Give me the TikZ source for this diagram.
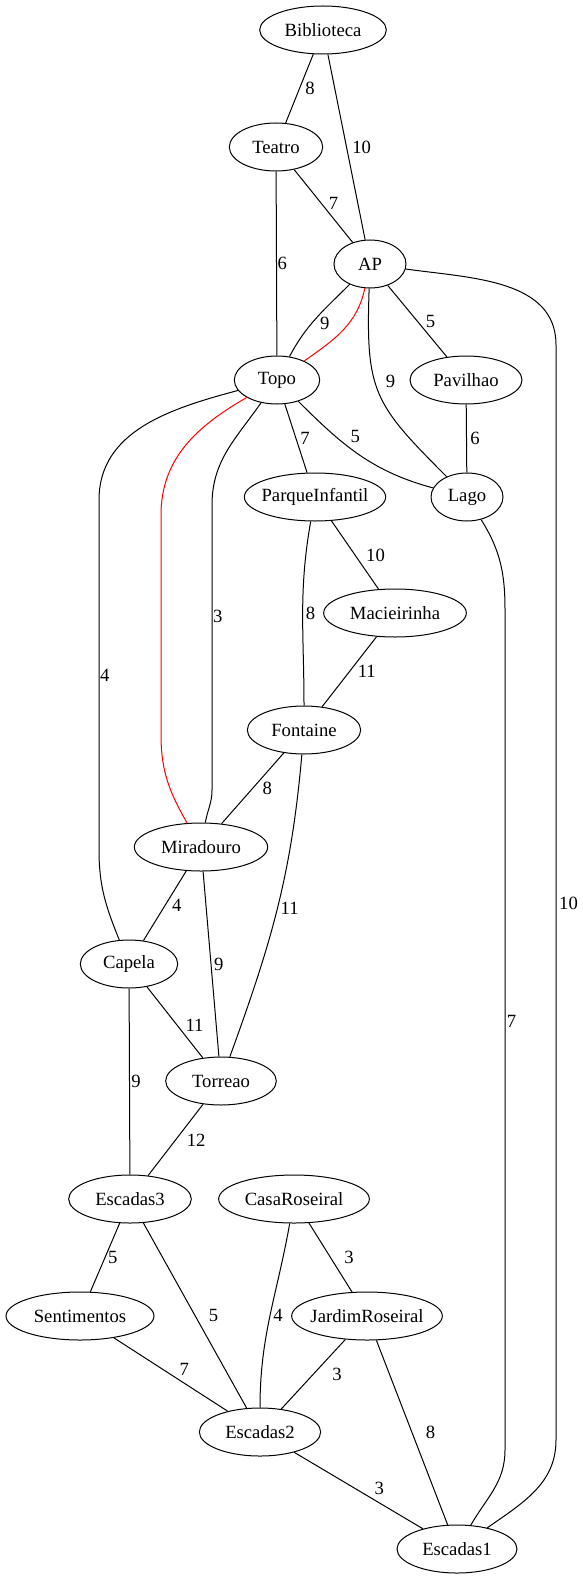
\documentclass[tikz,border=0pt]{standalone}
\usepackage{fontspec}
\setmainfont{Liberation Serif}
\usetikzlibrary{shapes.geometric}
\begin{document}
\begin{tikzpicture}[x=0.75pt,y=0.75pt,
  place/.style={draw, ellipse, line width=0.75pt, minimum width=#1, minimum height=36pt,
    inner sep=0pt, font=\fontsize{14}{16}\selectfont,
    execute at begin node={\hbox to 0pt\bgroup\hss}, execute at end node={\hss\egroup}},
  place/.default=54pt,
  road/.style={line width=0.75pt},
  best/.style={road, red},
  cost/.style={font=\fontsize{14}{16}\selectfont, inner sep=2pt, anchor=west}]
\useasboundingbox (0,0) rectangle (582,-1580);

\node[place=95pt] (Biblioteca) at (323,-30) {Biblioteca};
\node[place=70pt] (Teatro) at (276,-147) {Teatro};
\node[place] (AP) at (370,-264) {AP};
\node[place=64pt] (Topo) at (277,-380) {Topo};
\node[place=84pt] (Pavilhao) at (466,-380) {Pavilhao};
\node[place=106pt] (ParqueInfantil) at (315,-497) {ParqueInfantil};
\node[place] (Lago) at (467,-497) {Lago};
\node[place=107pt] (Macieirinha) at (395,-613) {Macieirinha};
\node[place=85pt] (Fontaine) at (304,-730) {Fontaine};
\node[place=100pt] (Miradouro) at (201,-847) {Miradouro};
\node[place=73pt] (Capela) at (129,-964) {Capela};
\node[place=83pt] (Torreao) at (221,-1081) {Torreao};
\node[place=92pt] (Escadas3) at (130,-1199) {Escadas3};
\node[place=113pt] (CasaRoseiral) at (294,-1199) {CasaRoseiral};
\node[place=111pt] (Sentimentos) at (80,-1316) {Sentimentos};
\node[place=113pt] (JardimRoseiral) at (367,-1316) {JardimRoseiral};
\node[place=91pt] (Escadas2) at (260,-1432) {Escadas2};
\node[place=90pt] (Escadas1) at (457,-1549) {Escadas1};

\coordinate (apturn) at (556,-345);
\coordinate (apdrop) at (556,-1440);
\coordinate (lagoturn) at (505,-610);
\coordinate (lagodrop) at (505,-1450);
\coordinate (capturn) at (99,-500);
\coordinate (capdrop) at (99,-850);
\coordinate (redturn) at (161,-515);
\coordinate (reddrop) at (161,-735);
\coordinate (miraturn) at (212,-505);
\coordinate (miradrop) at (212,-790);

\draw[road] (Biblioteca) -- node[cost, xshift=2pt] {8} (Teatro);
\draw[road] (Biblioteca) -- node[cost, xshift=2pt] {10} (AP);
\draw[road] (Teatro) -- node[cost, pos=0.47, xshift=3pt] {7} (AP);
\draw[road] (Teatro) -- node[cost, inner sep=0.5pt] {6} (Topo);
\draw[road] (AP) to[out=225,in=62] node[cost, pos=0.58, xshift=4pt] {9} (Topo);
\draw[best] (AP) to[out=258,in=35] (Topo);
\draw[road] (AP) -- node[cost, xshift=4pt] {5} (Pavilhao);
\draw[road] (AP) to[out=268,in=135,looseness=1.3] node[cost, pos=0.42, xshift=6pt] {9} (Lago);
\draw[road] (AP) to[out=-8,in=90] (apturn) -- node[cost, pos=0.51] {10} (apdrop) to[out=270,in=35] (Escadas1);

\draw[road] (Topo) -- node[cost, xshift=1pt] {7} (ParqueInfantil);
\draw[road] (Topo) to[out=-45,in=165] node[cost, pos=0.4, anchor=south west] {5} (Lago);
\draw[road] (Topo) to[out=195,in=90] (capturn) -- node[cost, inner sep=0.5pt] {4} (capdrop) to[out=270,in=112] (Capela);
\draw[best] (Topo) to[out=210,in=90] (redturn) -- (reddrop) to[out=270,in=120] (Miradouro);
\draw[road] (Topo) to[out=235,in=90] (miraturn) -- node[cost, pos=0.39, inner sep=0.5pt] {3} (miradrop) to[out=270,in=80] (Miradouro);
\draw[road] (Pavilhao) -- node[cost, inner sep=0.5pt, xshift=2pt] {6} (Lago);
\draw[road] (Lago) to[out=-58,in=90] (lagoturn) -- node[cost, pos=0.49, inner sep=1pt] {7} (lagodrop) to[out=270,in=60] (Escadas1);

\draw[road] (ParqueInfantil) -- node[cost, xshift=6pt] {10} (Macieirinha);
\draw[road] (ParqueInfantil) to[out=260,in=90] node[cost] {8} (Fontaine);
\draw[road] (Macieirinha) -- node[cost, xshift=4pt] {11} (Fontaine);
\draw[road] (Fontaine) -- node[cost, xshift=5pt] {8} (Miradouro);
\draw[road] (Fontaine) to[out=265,in=70] node[cost, pos=0.5] {11} (Torreao);

\draw[road] (Miradouro) -- node[cost, xshift=3pt] {4} (Capela);
\draw[road] (Miradouro) -- node[cost] {9} (Torreao);
\draw[road] (Capela) -- node[cost, pos=0.54, xshift=4pt] {11} (Torreao);
\draw[road] (Capela) -- node[cost, inner sep=1pt] {9} (Escadas3);
\draw[road] (Torreao) -- node[cost, xshift=6pt] {12} (Escadas3);

\draw[road] (Escadas3) -- node[cost] {5} (Sentimentos);
\draw[road] (Escadas3) -- node[cost, xshift=8pt] {5} (Escadas2);
\draw[road] (CasaRoseiral) -- node[cost, xshift=8pt] {3} (JardimRoseiral);
\draw[road] (CasaRoseiral) to[out=260,in=90] node[cost] {4} (Escadas2);
\draw[road] (Sentimentos) -- node[cost, pos=0.55, anchor=south west] {7} (Escadas2);
\draw[road] (JardimRoseiral) -- node[cost, xshift=12pt] {3} (Escadas2);
\draw[road] (JardimRoseiral) -- node[cost, xshift=8pt] {8} (Escadas1);
\draw[road] (Escadas2) -- node[cost, pos=0.6, anchor=south west] {3} (Escadas1);
\end{tikzpicture}
\end{document}
